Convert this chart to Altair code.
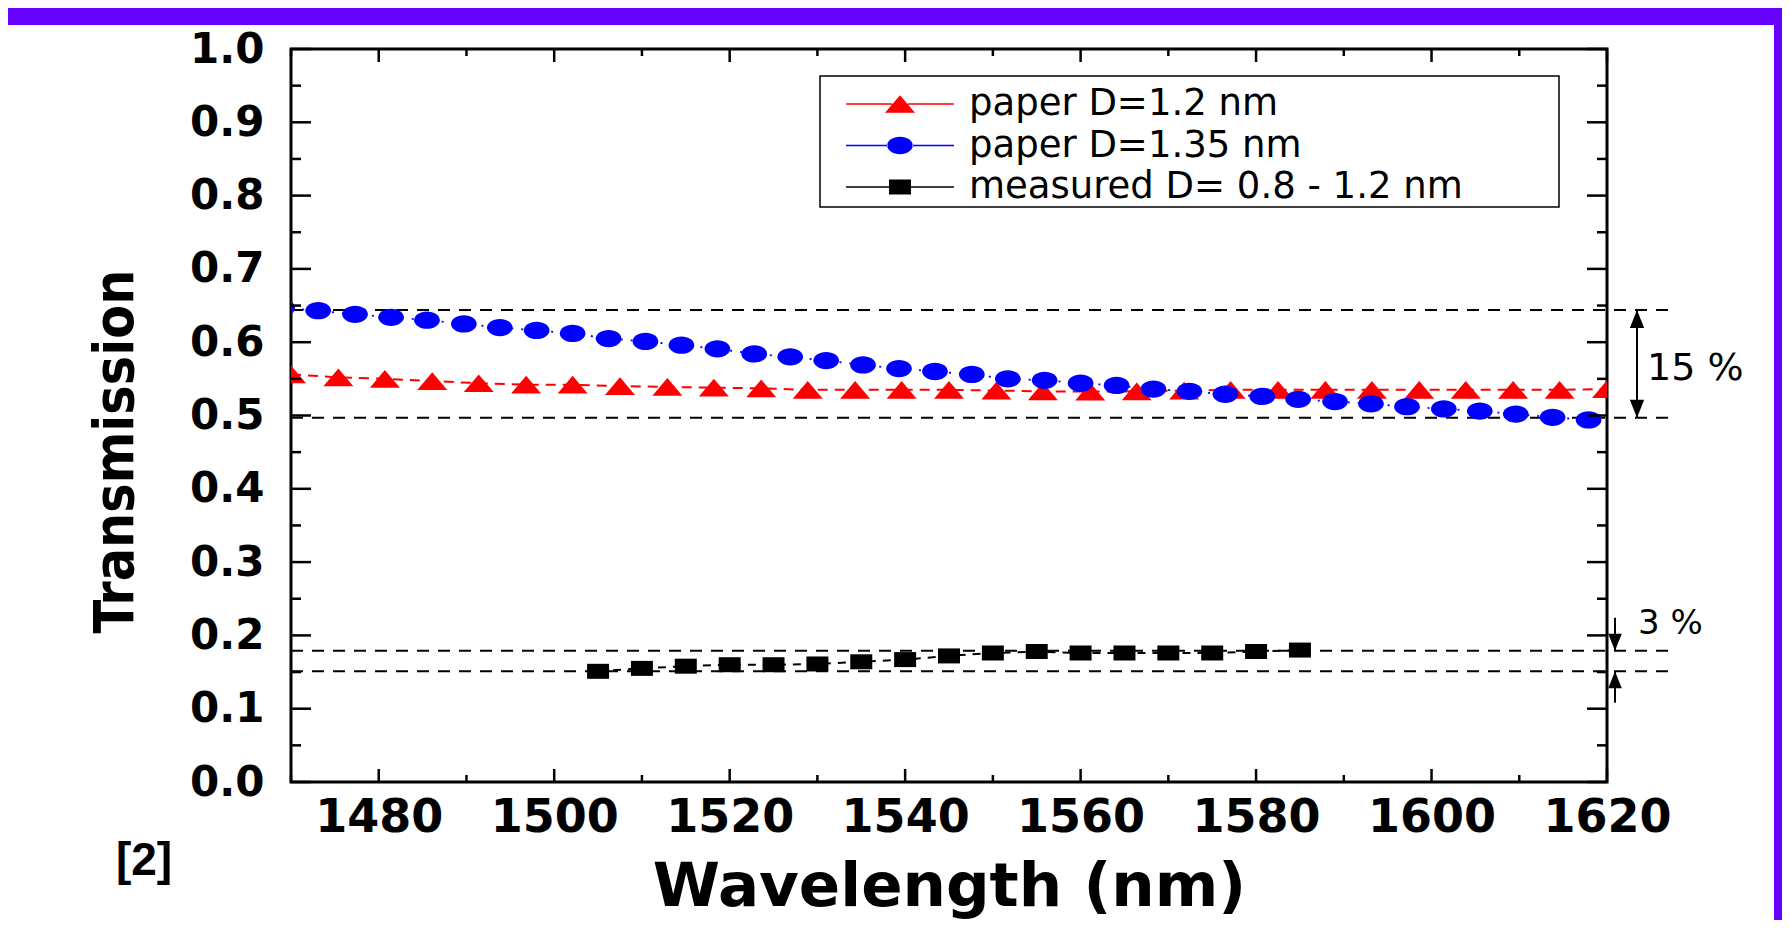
import altair as alt
import pandas as pd

# ---------------- data ----------------
series_names = ["paper D=1.2 nm", "paper D=1.35 nm", "measured D= 0.8 - 1.2 nm"]
series_colors = ["#ff0000", "#0000ff", "#000000"]

red_wl = [1470.0, 1475.4, 1480.7, 1486.1, 1491.4, 1496.8, 1502.1, 1507.5, 1512.9, 1518.2,
          1523.6, 1528.9, 1534.3, 1539.6, 1545.0, 1550.4, 1555.7, 1561.1, 1566.4, 1571.8,
          1577.1, 1582.5, 1587.9, 1593.2, 1598.6, 1603.9, 1609.3, 1614.6, 1620.0]
red_T = [0.556, 0.552, 0.550, 0.547, 0.544, 0.542, 0.542, 0.540, 0.539, 0.538,
         0.537, 0.535, 0.535, 0.535, 0.535, 0.534, 0.533, 0.5325, 0.533, 0.534,
         0.535, 0.535, 0.535, 0.535, 0.535, 0.535, 0.535, 0.535, 0.536]

blue_wl = [1469.0, 1473.1, 1477.3, 1481.4, 1485.5, 1489.7, 1493.8, 1498.0, 1502.1, 1506.2,
           1510.4, 1514.5, 1518.6, 1522.8, 1526.9, 1531.0, 1535.2, 1539.3, 1543.4, 1547.6,
           1551.7, 1555.9, 1560.0, 1564.1, 1568.3, 1572.4, 1576.5, 1580.7, 1584.8, 1589.0,
           1593.1, 1597.2, 1601.4, 1605.5, 1609.6, 1613.8, 1617.9]
blue_T = [0.647, 0.643, 0.638, 0.634, 0.630, 0.625, 0.620, 0.616, 0.612, 0.605,
          0.601, 0.596, 0.591, 0.584, 0.580, 0.575, 0.569, 0.564, 0.560, 0.556,
          0.550, 0.548, 0.544, 0.541, 0.536, 0.533, 0.529, 0.526, 0.522, 0.519,
          0.516, 0.512, 0.509, 0.506, 0.502, 0.4975, 0.494]

black_wl = [1505, 1510, 1515, 1520, 1525, 1530, 1535, 1540, 1545, 1550,
            1555, 1560, 1565, 1570, 1575, 1580, 1585]
black_T = [0.151, 0.155, 0.158, 0.160, 0.160, 0.161, 0.164, 0.167, 0.172, 0.176,
           0.178, 0.176, 0.176, 0.176, 0.176, 0.178, 0.180]

x_major = [1480, 1500, 1520, 1540, 1560, 1580, 1600, 1620]
x_minor = [1470, 1490, 1510, 1530, 1550, 1570, 1590, 1610]
y_major = [0.0, 0.1, 0.2, 0.3, 0.4, 0.5, 0.6, 0.7, 0.8, 0.9, 1.0]
y_minor = [0.05, 0.15, 0.25, 0.35, 0.45, 0.55, 0.65, 0.75, 0.85, 0.95]

ref_lines = [0.644, 0.497, 0.179, 0.151]
span15 = [0.644, 0.497]
arrow3_down = [0.224, 0.179]
arrow3_up = [0.108, 0.151]
label15 = ["15 %"]
label15_T = [0.564]
label3 = ["3 %"]
label3_T = [0.216]
corner_label = ["[2]"]

# ---------------- layout ----------------
W, H = 1316, 733
BOLD = "DejaVu Sans"

# marker shapes (data) and the same shapes with the legend line segments
S_TRI = "M0,-0.689L1.167,0.689L-1.167,0.689Z"
S_ELL = "M-1,0A1,0.673,0,1,0,1,0A1,0.673,0,1,0,-1,0Z"
S_SQ = "M-0.856,-0.584H0.856V0.584H-0.856Z"
L_TRI = "M-4.2,-0.05H-0.6V0.05H-4.2ZM0.6,-0.05H4.2V0.05H0.6Z" + S_TRI
L_ELL = "M-4.2,-0.05H-0.95V0.05H-4.2ZM0.95,-0.05H4.2V0.05H0.95Z" + S_ELL
L_SQ = "M-4.2,-0.05H-0.85V0.05H-4.2ZM0.85,-0.05H4.2V0.05H0.85Z" + S_SQ
HEAD_UP = "M0,0L0.4,1L-0.4,1Z"
HEAD_DOWN = "M0,0L0.4,-1L-0.4,-1Z"

xscale = alt.Scale(domain=[1470, 1620], nice=False, zero=False)
yscale = alt.Scale(domain=[0, 1], nice=False, zero=False)

x_axis = alt.Axis(values=x_major, format="d", ticks=False, tickSize=0, domain=False, grid=False,
                  labelFont=BOLD, labelFontWeight="bold", labelFontSize=46, labelColor="black",
                  labelPadding=13, labelFlush=False, labelOverlap=False,
                  title="Wavelength (nm)", titleFont=BOLD, titleFontWeight="bold",
                  titleFontSize=61, titleColor="black", titleX=W / 2, titleY=123,
                  titleAlign="center", titleBaseline="alphabetic", zindex=1)
y_axis = alt.Axis(values=y_major, format=".1f", ticks=False, tickSize=0, domain=False, grid=False,
                  labelFont=BOLD, labelFontWeight="bold", labelFontSize=42, labelColor="black",
                  labelPadding=27, labelFlush=False, labelOverlap=False,
                  title="Transmission",
                  titleFont="DejaVu Sans Condensed, DejaVu Sans, sans-serif",
                  titleFontWeight="bold", titleFontSize=55, titleColor="black",
                  titleAngle=270, titleX=-176, titleY=402, titleAlign="center",
                  titleBaseline="middle", zindex=1)

X = alt.X("wl:Q", scale=xscale, axis=x_axis)
Y = alt.Y("T:Q", scale=yscale, axis=y_axis)

rows = []
for name, wls, ts in zip(series_names, [red_wl, blue_wl, black_wl], [red_T, blue_T, black_T]):
    for w, t in zip(wls, ts):
        rows.append({"wl": w, "T": t, "series": name})
df = pd.DataFrame(rows)

one = pd.DataFrame({"k": [0]})

legend = alt.Legend(
    orient="none", legendX=529, legendY=36.5, padding=0, title=None,
    labelFont="DejaVu Sans", labelFontSize=37, labelColor="black", labelLimit=1000,
    symbolSize=660, symbolOffset=61.5, labelOffset=50.5, rowPadding=3.5, symbolOpacity=1,
)

layers = []

# purple frame strips
layers.append(alt.Chart(one).mark_rect(color="#6600ff").encode(
    x=alt.value(-283), x2=alt.value(W + 175), y=alt.value(-41), y2=alt.value(-24)))
layers.append(alt.Chart(one).mark_rect(color="#6600ff").encode(
    x=alt.value(W + 167), x2=alt.value(W + 175), y=alt.value(-41), y2=alt.value(H + 138)))

# dashed reference lines
layers.append(alt.Chart(pd.DataFrame({"T": ref_lines})).mark_rule(
    color="black", strokeWidth=2, strokeDash=[12, 9]).encode(
    y=Y, x=alt.value(0), x2=alt.value(1383)))

# series lines
line_styles = [([10, 7], 2.0), ([2, 8], 1.8), ([8, 7], 2.0)]
for name, color, (dash, sw) in zip(series_names, series_colors, line_styles):
    layers.append(alt.Chart(df).transform_filter(alt.datum.series == name).mark_line(
        color=color, strokeDash=dash, strokeWidth=sw, clip=True).encode(x=X, y=Y))

# markers
layers.append(alt.Chart(df).mark_point(filled=True, size=660, opacity=1, clip=True).encode(
    x=X, y=Y,
    color=alt.Color("series:N", scale=alt.Scale(domain=series_names, range=series_colors), legend=None),
    shape=alt.Shape("series:N", scale=alt.Scale(domain=series_names, range=[S_TRI, S_ELL, S_SQ]), legend=None),
))

# legend (no marks of its own: scales with the series domain drive it)
layers.append(alt.Chart(df).transform_filter("false").mark_point(filled=True, size=660, opacity=1).encode(
    x=X, y=Y,
    color=alt.Color("series:N", scale=alt.Scale(domain=series_names, range=series_colors), legend=legend),
    shape=alt.Shape("series:N", scale=alt.Scale(domain=series_names, range=[L_TRI, L_ELL, L_SQ]), legend=legend),
))

# inward ticks
def xticks(vals, length):
    d = pd.DataFrame({"wl": vals})
    return [
        alt.Chart(d).mark_rule(color="black", strokeWidth=2.5).encode(x=X, y=alt.value(H), y2=alt.value(H - length)),
        alt.Chart(d).mark_rule(color="black", strokeWidth=2.5).encode(x=X, y=alt.value(0), y2=alt.value(length)),
    ]

def yticks(vals, length):
    d = pd.DataFrame({"T": vals})
    return [
        alt.Chart(d).mark_rule(color="black", strokeWidth=2.5).encode(y=Y, x=alt.value(0), x2=alt.value(length)),
        alt.Chart(d).mark_rule(color="black", strokeWidth=2.5).encode(y=Y, x=alt.value(W), x2=alt.value(W - length)),
    ]

layers += xticks(x_major, 13) + xticks(x_minor, 7) + yticks(y_major, 20) + yticks(y_minor, 10)

# 15 % arrow
layers.append(alt.Chart(pd.DataFrame({"T": [span15[0]], "T2": [span15[1]]})).mark_rule(
    color="black", strokeWidth=2).encode(y=Y, y2="T2:Q", x=alt.value(1346)))
layers.append(alt.Chart(pd.DataFrame({"T": [span15[0]]})).mark_point(
    shape=HEAD_UP, filled=True, size=1296, color="black", opacity=1).encode(y=Y, x=alt.value(1346)))
layers.append(alt.Chart(pd.DataFrame({"T": [span15[1]]})).mark_point(
    shape=HEAD_DOWN, filled=True, size=1296, color="black", opacity=1).encode(y=Y, x=alt.value(1346)))
layers.append(alt.Chart(pd.DataFrame({"T": label15_T, "lab": label15})).mark_text(
    font="DejaVu Sans", fontSize=38, color="black", align="left", baseline="middle").encode(
    y=Y, x=alt.value(1356), text="lab:N"))

# 3 % arrows
for seg, head in [(arrow3_down, HEAD_DOWN), (arrow3_up, HEAD_UP)]:
    layers.append(alt.Chart(pd.DataFrame({"T": [seg[0]], "T2": [seg[1]]})).mark_rule(
        color="black", strokeWidth=2).encode(y=Y, y2="T2:Q", x=alt.value(1324)))
    layers.append(alt.Chart(pd.DataFrame({"T": [seg[1]]})).mark_point(
        shape=head, filled=True, size=1156, color="black", opacity=1).encode(y=Y, x=alt.value(1324)))
layers.append(alt.Chart(pd.DataFrame({"T": label3_T, "lab": label3})).mark_text(
    font="DejaVu Sans", fontSize=34, color="black", align="left", baseline="middle").encode(
    y=Y, x=alt.value(1347), text="lab:N"))

# legend frame
layers.append(alt.Chart(one).mark_rect(fillOpacity=0, stroke="black", strokeWidth=1.5).encode(
    x=alt.value(529), x2=alt.value(1268), y=alt.value(27), y2=alt.value(158)))

# corner reference label
layers.append(alt.Chart(pd.DataFrame({"lab": corner_label})).mark_text(
    font="Liberation Sans", fontWeight="bold", fontSize=46, color="black",
    align="center", baseline="alphabetic").encode(
    x=alt.value(-147), y=alt.value(826), text="lab:N"))

chart = alt.layer(*layers).resolve_scale(color="independent", shape="independent").properties(
    width=W, height=H,
    padding={"left": 283, "top": 41, "right": 175, "bottom": 138},
    autosize=alt.AutoSizeParams(type="none"),
).configure(background="white").configure_view(stroke="black", strokeWidth=3)

chart.save("out.html", embed_options={"renderer": "svg", "actions": False})
